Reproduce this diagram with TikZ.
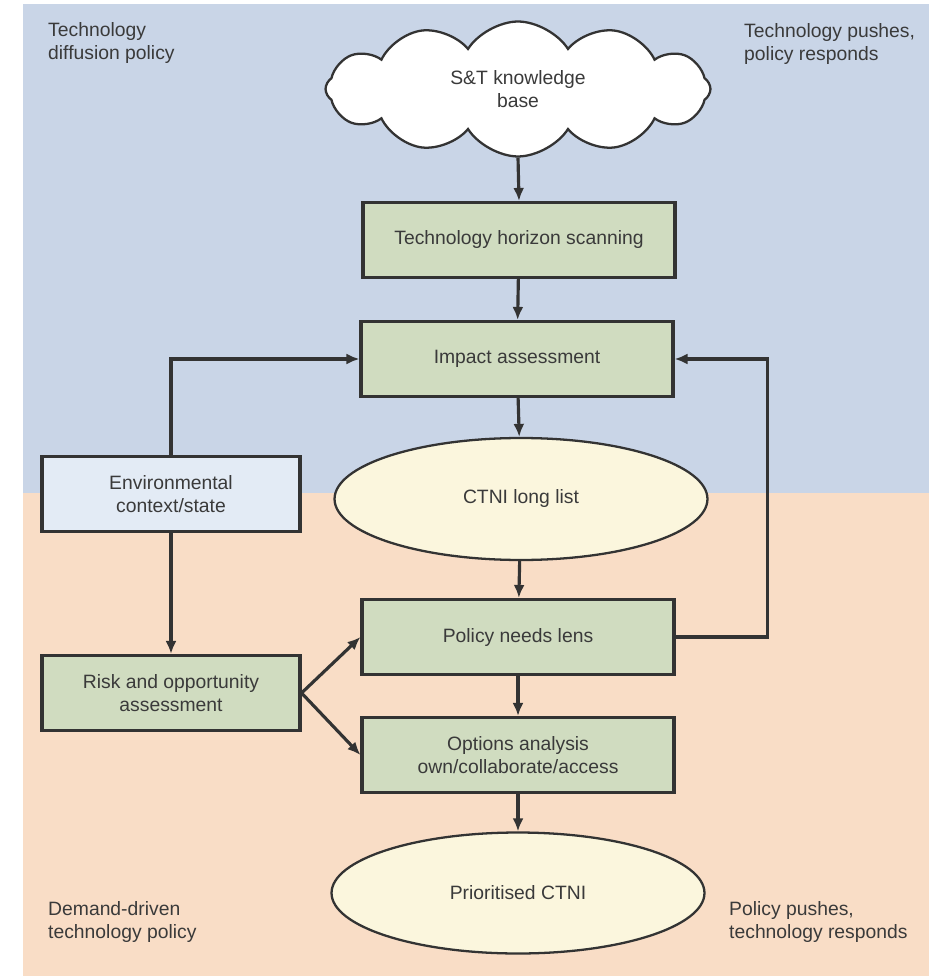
\documentclass[tikz,border=0pt]{standalone}
\usepackage{fontspec}
\setsansfont{Liberation Sans}
\usetikzlibrary{arrows.meta,shapes.geometric,shapes.symbols}

\definecolor{pushband}{HTML}{C9D5E7}
\definecolor{pullband}{HTML}{F9DDC6}
\definecolor{stepfill}{HTML}{D0DCC0}
\definecolor{envfill}{HTML}{E3EBF5}
\definecolor{listfill}{HTML}{FBF6DD}
\definecolor{inkline}{HTML}{333333}
\definecolor{inktext}{HTML}{3A3A3A}

\begin{document}
\begin{tikzpicture}[
      x=0.02cm, y=-0.02cm,
      font=\sffamily\fontsize{11}{13}\selectfont,
      >=Latex,
      flow/.style={line width=1.8pt, draw=inkline, -{Latex[length=2.6mm,width=2.2mm]}},
      stepbox/.style={draw=inkline, line width=1.8pt, fill=stepfill, text=inktext,
        align=center, inner sep=0pt, minimum width=6.24cm, minimum height=1.5cm},
      sidebox/.style={stepbox, minimum width=5.16cm},
      listoval/.style={ellipse, draw=inkline, line width=1.3pt, fill=listfill,
        text=inktext, inner sep=0pt, minimum width=7.46cm, minimum height=2.44cm},
      corner/.style={align=left, anchor=west, text=inktext}
    ]

    \path[use as bounding box] (0,0) rectangle (951,979);

    % Background bands
    \fill[pushband] (23,4) rectangle (929,493);
    \fill[pullband] (23,493) rectangle (929,976);

    % Corner notes
    \node[corner] (pushnote) at (42,43) {Technology\\diffusion policy};
    \node[corner] (pushresp) at (738,44) {Technology pushes,\\policy responds};
    \node[corner] (pullnote) at (42,922) {Demand-driven\\technology policy};
    \node[corner] (pullresp) at (723,922) {Policy pushes,\\technology responds};

    % Main column
    \node[cloud, cloud puffs=12, cloud puff arc=115, cloud ignores aspect,
      draw=inkline, line width=1.3pt, fill=white, text=inktext, align=center,
      minimum width=7.7cm, minimum height=2.7cm] (knowledge) at (518,89)
      {S\&T knowledge\\base};
    \node[stepbox] (scanning) at (519,240) {Technology horizon scanning};
    \node[stepbox] (impact) at (517,359) {Impact assessment};
    \node[listoval] (longlist) at (521,499) {CTNI long list};
    \node[stepbox] (needs) at (518,637) {Policy needs lens};
    \node[stepbox] (options) at (518,755) {Options analysis\\own/collaborate/access};
    \node[listoval, minimum height=2.42cm] (prioritised) at (518,893) {Prioritised CTNI};

    % Side column
    \node[sidebox, fill=envfill] (context) at (171,494) {Environmental\\context/state};
    \node[sidebox] (risk) at (171,693) {Risk and opportunity\\assessment};

    % Connectors
    \draw[flow] (knowledge.south) -- (scanning.north);
    \draw[flow] (scanning) -- (impact);
    \draw[flow] (impact) -- (longlist);
    \draw[flow] (longlist) -- (needs);
    \draw[flow] (needs) -- (options);
    \draw[flow] (options) -- (prioritised);

    \draw[flow] (context.north) |- (impact.west);
    \draw[flow] (context) -- (risk);
    \draw[flow] (needs.east) -- ++(92,0) |- (impact.east);
    \draw[flow] (risk.east) -- (needs.west);
    \draw[flow] (risk.east) -- (options.west);

  \end{tikzpicture}
\end{document}
